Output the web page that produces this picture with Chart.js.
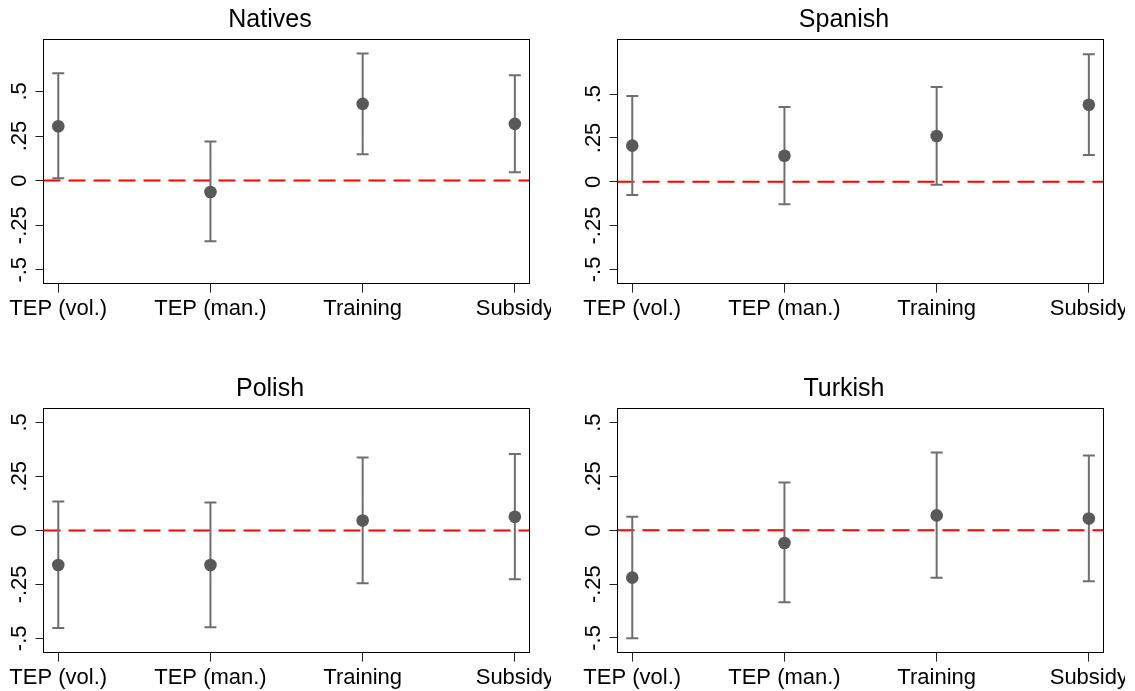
<!DOCTYPE html>
<html>
<head>
<meta charset="utf-8">
<script src="https://cdn.jsdelivr.net/npm/chart.js@4"></script>
<style>
html,body{margin:0;padding:0;background:#fff;width:1135px;height:691px;overflow:hidden;position:relative}
canvas{position:absolute;display:block}
</style>
</head>
<body>
<canvas id="c0" width="562" height="344" style="left:-11px;top:0px"></canvas>
<canvas id="c1" width="562" height="344" style="left:563px;top:0px"></canvas>
<canvas id="c2" width="562" height="322" style="left:-11px;top:369px"></canvas>
<canvas id="c3" width="562" height="322" style="left:563px;top:369px"></canvas>
<script>
// ---- data ----
const categories = ['TEP (vol.)', 'TEP (man.)', 'Training', 'Subsidy'];
const yTickValues = [-0.5, -0.25, 0, 0.25, 0.5];
const yTickLabels = ['-.5', '-.25', '0', '.25', '.5'];

const nativesEst = [0.305, -0.064, 0.430, 0.318];
const nativesLo  = [0.013, -0.340, 0.148, 0.047];
const nativesHi  = [0.602, 0.219, 0.712, 0.591];

const spanishEst = [0.206, 0.148, 0.261, 0.439];
const spanishLo  = [-0.076, -0.129, -0.017, 0.152];
const spanishHi  = [0.489, 0.426, 0.540, 0.727];

const polishEst = [-0.160, -0.160, 0.046, 0.063];
const polishLo  = [-0.452, -0.449, -0.245, -0.226];
const polishHi  = [0.134, 0.129, 0.338, 0.354];

const turkishEst = [-0.220, -0.059, 0.069, 0.055];
const turkishLo  = [-0.501, -0.334, -0.220, -0.237];
const turkishHi  = [0.063, 0.222, 0.361, 0.347];

const panelTitles = ['Natives', 'Spanish', 'Polish', 'Turkish'];
const panelYMin = [-0.5775, -0.581, -0.566, -0.568];
const panelYMax = [0.7905, 0.811, 0.564, 0.565];

// ---- chart ----
Chart.defaults.font.family = "'Liberation Sans', Arial, Helvetica, sans-serif";
Chart.defaults.color = '#000';

const X_MIN = -0.097, X_MAX = 3.093;
const ERR_COLOR = '#6e6e6e';
const PT_COLOR = '#595959';

function makePanel(canvasId, title, est, lo, hi, yMin, yMax, xAxisHeight) {
  const segs = [];
  const caps = [];
  for (let i = 0; i < categories.length; i++) {
    segs.push({x: i, y: lo[i]}, {x: i, y: hi[i]}, {x: i, y: null});
    caps.push({x: i, y: lo[i]}, {x: i, y: hi[i]});
  }
  const points = est.map((v, i) => ({x: i, y: v}));
  new Chart(document.getElementById(canvasId), {
    type: 'line',
    data: {
      datasets: [
        { label: 'zero', data: [{x: X_MIN, y: 0}, {x: X_MAX, y: 0}], borderColor: '#ff0000', borderWidth: 2,
          borderDash: [17, 8], pointRadius: 0, order: 4, xAxisID: 'x', yAxisID: 'y' },
        { label: 'ci', data: segs, borderColor: ERR_COLOR, borderWidth: 2, pointRadius: 0, spanGaps: false,
          order: 3, xAxisID: 'x', yAxisID: 'y' },
        { label: 'caps', data: caps, showLine: false, pointStyle: 'line', pointRadius: 6,
          pointBorderWidth: 2, pointBorderColor: ERR_COLOR, borderColor: ERR_COLOR, order: 2, xAxisID: 'x', yAxisID: 'y' },
        { label: 'est', data: points, showLine: false, pointStyle: 'circle', pointRadius: 6.3,
          pointBackgroundColor: PT_COLOR, pointBorderWidth: 0, backgroundColor: PT_COLOR, order: 1, xAxisID: 'x', yAxisID: 'y' }
      ]
    },
    options: {
      responsive: false,
      devicePixelRatio: 1,
      animation: false,
      events: [],
      layout: { padding: 0 },
      plugins: {
        legend: { display: false },
        tooltip: { enabled: false },
        title: {
          display: true, text: title, color: '#000',
          font: { size: 25, weight: 'normal', lineHeight: 1.2 },
          padding: { top: 5, bottom: 4.6 }
        }
      },
      scales: {
        x: {
          type: 'linear', position: 'bottom', min: X_MIN, max: X_MAX,
          afterBuildTicks: s => { s.ticks = categories.map((c, i) => ({value: i})); },
          afterFit: s => { s.height = xAxisHeight; s.paddingLeft = 0; s.paddingRight = 0; },
          ticks: { autoSkip: false, maxRotation: 0, minRotation: 0, padding: 3, color: '#000',
                   font: { size: 22 }, callback: v => categories[v] },
          grid: { drawOnChartArea: false, drawTicks: true, tickLength: 9, tickColor: '#222', tickWidth: 1 },
          border: { display: true, color: '#000', width: 1 }
        },
        xTop: {
          type: 'linear', position: 'top', min: X_MIN, max: X_MAX,
          ticks: { display: false },
          grid: { display: false, drawTicks: false },
          border: { display: true, color: '#000', width: 1 },
          afterFit: s => { s.height = 0; s.paddingLeft = 0; s.paddingRight = 0; }
        },
        y: {
          type: 'linear', position: 'left', min: yMin, max: yMax,
          afterBuildTicks: s => { s.ticks = yTickValues.map(v => ({value: v})); },
          afterFit: s => { s.width = 54.5; s.paddingTop = 0; s.paddingBottom = 0; },
          ticks: { autoSkip: false, minRotation: 90, maxRotation: 90, crossAlign: 'center', padding: -3,
                   color: '#000', font: { size: 22 },
                   callback: v => { const k = yTickValues.indexOf(v); return k >= 0 ? yTickLabels[k] : ''; } },
          grid: { drawOnChartArea: false, drawTicks: true, tickLength: 8, tickColor: '#222', tickWidth: 1 },
          border: { display: true, color: '#000', width: 1 }
        },
        yRight: {
          type: 'linear', position: 'right', min: yMin, max: yMax,
          ticks: { display: false },
          grid: { display: false, drawTicks: false },
          border: { display: true, color: '#000', width: 1 },
          afterFit: s => { s.width = 22; s.paddingTop = 0; s.paddingBottom = 0; }
        }
      }
    }
  });
}

makePanel('c0', panelTitles[0], nativesEst, nativesLo, nativesHi, panelYMin[0], panelYMax[0], 60.4);
makePanel('c1', panelTitles[1], spanishEst, spanishLo, spanishHi, panelYMin[1], panelYMax[1], 60.4);
makePanel('c2', panelTitles[2], polishEst, polishLo, polishHi, panelYMin[2], panelYMax[2], 38.4);
makePanel('c3', panelTitles[3], turkishEst, turkishLo, turkishHi, panelYMin[3], panelYMax[3], 38.4);
</script>
</body>
</html>
